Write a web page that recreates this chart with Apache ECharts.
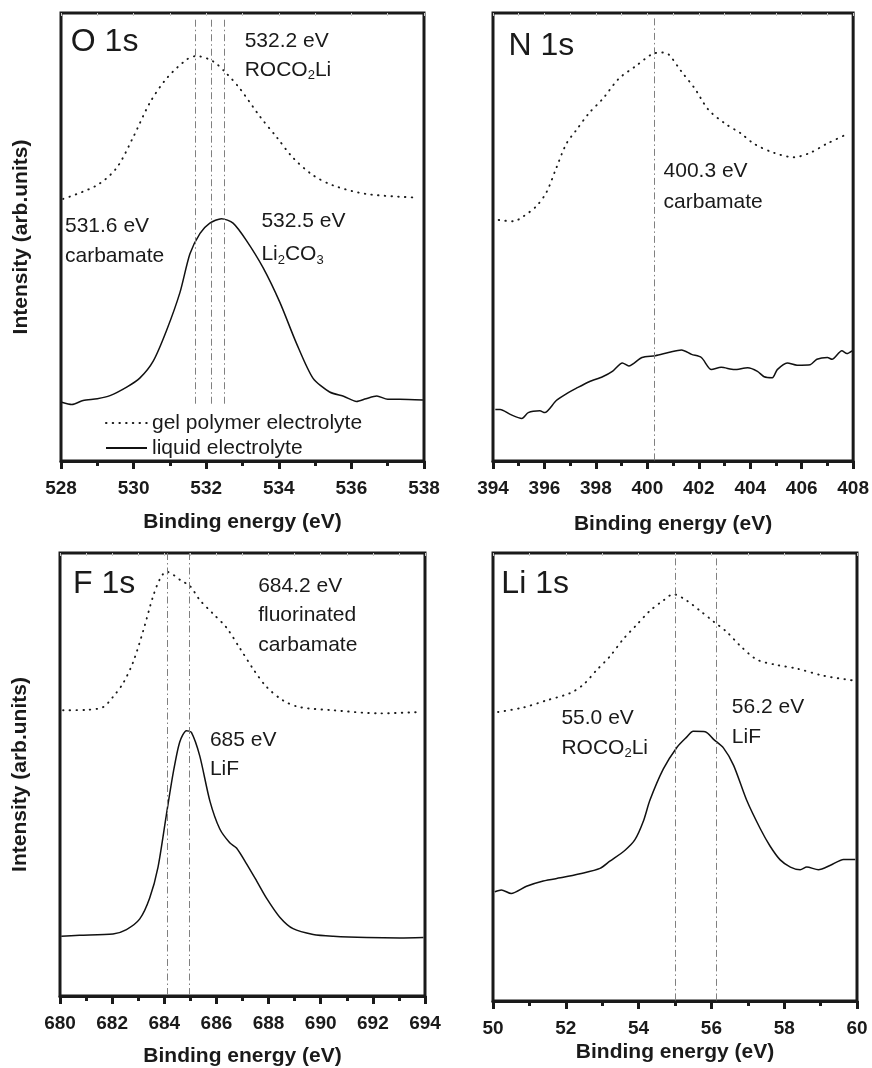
<!DOCTYPE html>
<html><head><meta charset="utf-8">
<script src="https://cdn.jsdelivr.net/npm/echarts@6/dist/echarts.min.js"></script>
<style>html,body{margin:0;padding:0;background:#fff}#c{width:872px;height:1068px}</style>
</head><body><div id="c"></div>
<script>
// ---- Data (binding energy eV, intensity arb. units) ----
const o1sGel = [[528.06,58.5],[528.98,61.5],[529.53,65.4],[529.99,72.3],[530.45,80.0],[530.91,85.4],[531.46,89.6],[531.73,90.4],[532.19,89.2],[532.56,86.5],[532.93,83.1],[533.48,76.9],[533.94,72.3],[534.39,67.7],[534.94,63.8],[535.50,61.5],[536.41,59.6],[537.79,58.8]];
const o1sLiq = [[528.02,13.1],[528.3,12.6],[528.61,13.5],[529.0,13.9],[529.35,14.6],[529.81,16.5],[530.17,18.5],[530.54,22.3],[530.91,29.2],[531.28,37.7],[531.55,46.2],[531.83,50.8],[532.10,53.1],[532.42,54.1],[532.74,53.1],[533.11,49.2],[533.57,43.1],[534.03,35.4],[534.49,26.2],[534.94,18.5],[535.40,15.4],[535.8,14.4],[536.14,13.3],[536.4,13.9],[536.7,14.5],[537.0,13.8],[537.33,13.8],[537.97,13.6]];
const n1sGel = [[394.22,53.8],[394.79,53.5],[395.18,54.6],[395.69,56.9],[396.08,60.0],[396.46,65.4],[396.85,70.8],[397.23,73.8],[397.74,77.7],[398.26,80.8],[398.90,85.4],[399.54,88.1],[400.18,90.8],[400.56,91.2],[400.82,90.8],[401.33,86.9],[401.85,83.1],[402.36,78.5],[403.00,75.4],[403.64,73.1],[404.15,70.8],[404.92,68.8],[405.69,67.8],[406.33,68.8],[406.97,70.8],[407.81,73.1]];
const n1sLiq = [[394.09,11.5],[394.28,11.5],[394.67,10.4],[395.12,9.5],[395.37,10.8],[395.82,11.2],[396.01,10.8],[396.46,13.5],[396.85,15.0],[397.23,16.2],[397.74,17.7],[398.26,18.8],[398.64,20.0],[399.03,21.9],[399.28,21.2],[399.79,23.1],[400.31,23.5],[400.82,24.2],[401.33,24.8],[401.72,23.8],[402.10,23.1],[402.49,20.4],[402.87,20.9],[403.38,20.4],[403.90,20.8],[404.28,20.0],[404.54,18.8],[404.86,18.6],[405.05,20.4],[405.44,21.9],[405.82,21.4],[406.33,21.5],[406.59,22.7],[407.0,23.1],[407.18,22.7],[407.56,24.6],[407.76,24.0],[407.96,24.6]];
const f1sGel = [[680.12,64.5],[681.01,64.6],[681.65,65.2],[682.03,67.5],[682.42,70.6],[682.80,75.3],[683.19,82.4],[683.57,90.2],[683.83,94.1],[684.08,95.8],[684.34,95.1],[684.66,93.7],[684.98,92.6],[685.36,89.4],[685.87,86.3],[686.38,83.2],[686.90,78.5],[687.41,73.8],[687.92,69.8],[688.56,66.7],[689.20,65.2],[690.48,64.5],[692.27,63.8],[693.81,64.1]];
const f1sLiq = [[680.05,13.5],[680.75,13.7],[682.03,14.0],[682.55,15.0],[683.06,17.4],[683.44,22.1],[683.76,29.1],[684.08,40.9],[684.34,50.3],[684.59,57.3],[684.85,59.9],[685.04,59.5],[685.36,54.2],[685.75,44.0],[686.13,37.7],[686.51,34.6],[686.77,33.4],[687.15,29.9],[687.54,26.0],[687.92,22.1],[688.43,17.8],[688.94,15.2],[689.71,13.9],[690.48,13.5],[691.76,13.2],[693.04,13.1],[693.94,13.2]];
const li1sGel = [[50.14,64.5],[50.83,65.5],[51.47,67.1],[52.11,68.7],[52.48,70.6],[52.84,73.8],[53.21,76.9],[53.58,80.8],[53.94,83.9],[54.31,87.1],[54.68,89.4],[54.95,90.8],[55.32,89.4],[55.69,87.1],[56.06,84.7],[56.42,82.4],[56.79,79.3],[57.25,76.2],[57.80,75.0],[58.35,74.2],[59.08,72.6],[59.86,71.6]];
const li1sLiq = [[50.05,24.4],[50.23,24.8],[50.50,24.0],[50.92,25.6],[51.38,26.8],[51.93,27.6],[52.39,28.4],[52.94,29.6],[53.21,31.2],[53.62,33.6],[53.90,36.0],[54.13,40.1],[54.31,44.8],[54.68,51.8],[55.05,56.6],[55.32,58.9],[55.50,60.2],[55.83,60.1],[56.06,58.4],[56.33,56.5],[56.61,52.6],[56.97,44.8],[57.34,38.5],[57.61,34.6],[57.89,31.5],[58.17,29.9],[58.44,29.3],[58.62,29.9],[58.94,29.3],[59.27,30.3],[59.63,31.6],[59.95,31.6]];

// reference energies (dash-dot lines): [x, yFrom, yTo]
const o1sRefs = [[531.7,98.5,12.3],[532.15,98.5,12.3],[532.5,98.5,12.3]];
const n1sRefs = [[400.28,98.8,0]];
const f1sRefs = [[684.12,100,0],[684.95,100,0]];
const li1sRefs = [[55.02,98.8,0],[56.13,98.8,0]];

const xRanges = [[528,538],[394,408],[680,694],[50,60]];
const panelNames = ['O 1s','N 1s','F 1s','Li 1s'];
const panelNamePos = [[528.27,93.6],[394.6,92.7],[680.5,93.0],[50.23,93.1]];

// annotation texts: [x, y, text]
const o1sNotes = [[533.06,93.8,'532.2 eV'],[533.06,87.3,'{a|ROCO}{s|2}{a|Li}'],[528.11,52.3,'531.6 eV'],[528.11,45.8,'carbamate'],[533.52,53.5,'532.5 eV'],[533.52,46.2,'{a|Li}{s|2}{a|CO}{s|3}']];
const n1sNotes = [[400.63,64.6,'400.3 eV'],[400.63,57.7,'carbamate']];
const f1sNotes = [[687.6,92.6,'684.2 eV'],[687.6,85.9,'fluorinated'],[687.6,79.2,'carbamate'],[685.75,57.7,'685 eV'],[685.75,51.1,'LiF']];
const li1sNotes = [[51.88,63.2,'55.0 eV'],[51.88,56.5,'{a|ROCO}{s|2}{a|Li}'],[56.56,65.5,'56.2 eV'],[56.56,58.9,'LiF']];

const gels = [o1sGel,n1sGel,f1sGel,li1sGel];
const liqs = [o1sLiq,n1sLiq,f1sLiq,li1sLiq];
const refs = [o1sRefs,n1sRefs,f1sRefs,li1sRefs];
const notes = [o1sNotes,n1sNotes,f1sNotes,li1sNotes];

const FONT = "'Liberation Sans', Arial, Helvetica, sans-serif";
const INK = '#1a1a1a';
const grids = [
  {left:61, top:13, width:363, height:448},
  {left:493, top:13, width:364, height:448},
  {left:60, top:553, width:365, height:446},
  {left:493, top:553, width:364, height:448}
];
const nameGaps = [51, 53, 50, 41];
const DOTS = [0.5, 6.2];

const option = {
  animation:false,
  backgroundColor:'#fff',
  textStyle:{fontFamily:FONT},
  grid: grids.map(g => Object.assign({show:true, borderColor:INK, borderWidth:3, backgroundColor:'transparent'}, g)),
  legend: {
    data:['gel polymer electrolyte','liquid electrolyte'],
    orient:'vertical', left:100, top:407, itemWidth:41, itemHeight:12, itemGap:3,
    itemStyle:{opacity:0},
    textStyle:{fontFamily:FONT, fontSize:21, color:INK, lineHeight:22},
    selectedMode:false
  },
  xAxis: [],
  yAxis: [],
  series: []
};

for (let i=0;i<4;i++){
  option.xAxis.push({
    gridIndex:i, type:'value', min:xRanges[i][0], max:xRanges[i][1], interval:2,
    name:'Binding energy (eV)', nameLocation:'middle', nameGap:nameGaps[i],
    nameTextStyle:{fontFamily:FONT, fontSize:21, fontWeight:'bold', color:INK},
    axisLine:{show:true, lineStyle:{color:INK, width:3}},
    axisTick:{show:true, length:8, lineStyle:{color:INK, width:3}},
    minorTick:{show:true, splitNumber:2, length:5, lineStyle:{color:INK, width:3}},
    axisLabel:{fontFamily:FONT, fontSize:19, fontWeight:'bold', color:INK, margin:18},
    splitLine:{show:false}
  });
  option.xAxis.push({
    gridIndex:i, type:'value', min:xRanges[i][0], max:xRanges[i][1], interval:1, position:'top',
    axisLine:{show:false}, axisLabel:{show:false}, splitLine:{show:false},
    axisTick:{show:true, inside:true, length:3, lineStyle:{color:'#c8c8c8', width:1}}
  });
  option.yAxis.push({
    gridIndex:i, type:'value', min:0, max:100,
    name:(i%2===0)?'Intensity (arb.units)':'', nameLocation:'middle', nameRotate:90, nameGap:29,
    nameTextStyle:{fontFamily:FONT, fontSize:21, fontWeight:'bold', color:INK},
    axisLine:{show:false}, axisTick:{show:false}, axisLabel:{show:false}, splitLine:{show:false}
  });
  const xi = i*2;
  option.series.push({
    name:'gel polymer electrolyte', type:'line', xAxisIndex:xi, yAxisIndex:i,
    data:gels[i], symbol:'none', smooth:0.3, silent:true,
    lineStyle:{color:INK, width:1.9, type:DOTS, cap:'round'}, itemStyle:{color:INK}
  });
  option.series.push({
    name:'liquid electrolyte', type:'line', xAxisIndex:xi, yAxisIndex:i,
    data:liqs[i], symbol:'none', smooth:0.25, silent:true,
    lineStyle:{color:'#111', width:1.5}, itemStyle:{color:'#111'},
    markLine:{
      silent:true, symbol:['none','none'], label:{show:false},
      lineStyle:{color:'#808080', width:1, type:[7,3,1.5,3]},
      data: refs[i].map(r => [{coord:[r[0], r[1]]},{coord:[r[0], r[2]]}])
    }
  });
  option.series.push({
    type:'scatter', xAxisIndex:xi, yAxisIndex:i, silent:true, symbolSize:0,
    itemStyle:{opacity:1},
    data:[[panelNamePos[i][0], panelNamePos[i][1], panelNames[i]]],
    label:{show:true, position:[0,0], align:'left', verticalAlign:'middle', opacity:1,
      formatter:p=>p.data[2], fontFamily:FONT, fontSize:32, color:INK}
  });
  option.series.push({
    type:'scatter', xAxisIndex:xi, yAxisIndex:i, silent:true, symbolSize:0,
    itemStyle:{opacity:1},
    data:notes[i],
    label:{show:true, position:[0,0], align:'left', verticalAlign:'middle', opacity:1,
      formatter:p=>p.data[2], fontFamily:FONT, fontSize:21, color:INK,
      rich:{a:{fontFamily:FONT, fontSize:21, color:INK}, s:{fontFamily:FONT, fontSize:13, color:INK, padding:[12,0,0,0]}}}
  });
}

const chart = echarts.init(document.getElementById('c'), null, {renderer:'canvas'});
chart.setOption(option);
</script></body></html>
